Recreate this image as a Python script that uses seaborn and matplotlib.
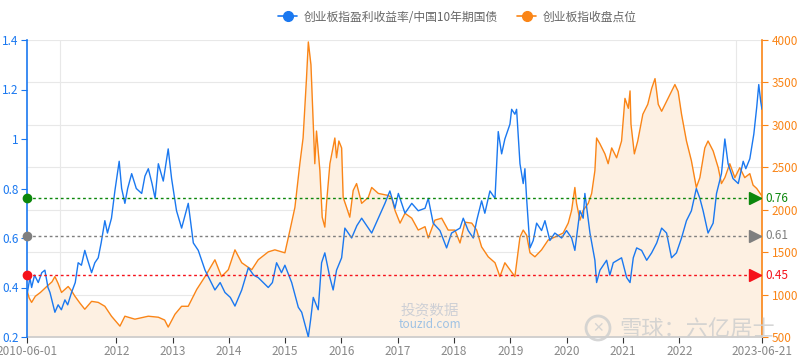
import matplotlib
matplotlib.use("Agg")
import matplotlib.pyplot as plt
from matplotlib.lines import Line2D
from matplotlib.patches import Circle
from matplotlib.transforms import blended_transform_factory, IdentityTransform
import seaborn as sns
import pandas as pd

# ratio series: ChiNext earnings yield / China 10y bond (left axis)
ratio_dates = [
    "2010-06-01", "2010-06-20", "2010-07-01", "2010-07-20", "2010-08-13", "2010-09-05", "2010-09-25",
    "2010-10-15", "2010-10-28", "2010-11-29", "2010-12-20", "2011-01-10", "2011-02-02", "2011-02-20",
    "2011-03-17", "2011-04-10", "2011-04-29", "2011-05-20", "2011-06-11", "2011-06-25", "2011-07-25",
    "2011-08-15", "2011-09-06", "2011-09-25", "2011-10-19", "2011-11-05", "2011-12-01", "2011-12-23",
    "2012-01-20", "2012-02-05", "2012-02-26", "2012-03-15", "2012-04-10", "2012-05-10", "2012-06-14",
    "2012-07-05", "2012-07-27", "2012-08-20", "2012-09-09", "2012-09-30", "2012-11-01", "2012-12-03",
    "2012-12-25", "2013-01-26", "2013-02-28", "2013-04-12", "2013-05-15", "2013-06-16", "2013-07-30",
    "2013-10-02", "2013-11-05", "2013-12-06", "2014-01-10", "2014-02-09", "2014-03-25", "2014-05-07",
    "2014-06-10", "2014-07-10", "2014-09-13", "2014-10-10", "2014-11-06", "2014-12-08", "2014-12-30",
    "2015-02-12", "2015-03-27", "2015-04-18", "2015-05-31", "2015-06-15", "2015-07-02", "2015-08-03",
    "2015-08-25", "2015-09-15", "2015-10-18", "2015-11-08", "2015-11-30", "2016-01-02", "2016-01-23",
    "2016-03-07", "2016-04-10", "2016-05-11", "2016-07-15", "2016-08-27", "2016-10-09", "2016-11-10",
    "2016-12-13", "2017-01-04", "2017-02-16", "2017-04-01", "2017-05-13", "2017-06-26", "2017-07-17",
    "2017-08-18", "2017-10-01", "2017-11-13", "2017-12-15", "2018-02-08", "2018-03-01", "2018-04-02",
    "2018-05-05", "2018-05-27", "2018-06-28", "2018-07-19", "2018-08-21", "2018-09-23", "2018-10-14",
    "2018-11-05", "2018-11-26", "2018-12-29", "2019-01-09", "2019-01-30", "2019-02-10", "2019-03-04",
    "2019-03-25", "2019-04-05", "2019-04-16", "2019-05-08", "2019-05-29", "2019-06-20", "2019-07-22",
    "2019-08-13", "2019-09-14", "2019-10-16", "2019-11-29", "2019-12-31", "2020-02-02", "2020-02-23",
    "2020-03-27", "2020-04-17", "2020-04-28", "2020-05-31", "2020-07-02", "2020-07-13", "2020-08-04",
    "2020-09-16", "2020-10-07", "2020-10-29", "2020-12-22", "2021-01-24", "2021-02-15", "2021-03-08",
    "2021-03-30", "2021-05-01", "2021-06-03", "2021-07-05", "2021-08-07", "2021-09-08", "2021-10-10",
    "2021-11-11", "2021-12-13", "2022-01-15", "2022-02-16", "2022-03-20", "2022-04-21", "2022-05-14",
    "2022-06-04", "2022-07-06", "2022-08-08", "2022-08-30", "2022-10-01", "2022-10-23", "2022-11-13",
    "2022-12-15", "2023-01-18", "2023-02-19", "2023-03-08", "2023-04-03", "2023-04-29", "2023-05-18",
    "2023-05-31", "2023-06-13", "2023-06-21",
]
ratio_vals = [
    0.37, 0.44, 0.40, 0.45, 0.42, 0.46, 0.47,
    0.40, 0.38, 0.30, 0.33, 0.31, 0.35, 0.33,
    0.38, 0.42, 0.50, 0.49, 0.55, 0.52, 0.46,
    0.50, 0.52, 0.58, 0.67, 0.62, 0.68, 0.79,
    0.91, 0.80, 0.74, 0.80, 0.86, 0.80, 0.78,
    0.85, 0.88, 0.82, 0.76, 0.90, 0.83, 0.96,
    0.84, 0.71, 0.64, 0.74, 0.58, 0.55, 0.47,
    0.39, 0.42, 0.38, 0.36, 0.325, 0.39, 0.48,
    0.45, 0.44, 0.40, 0.42, 0.50, 0.46, 0.49,
    0.42, 0.32, 0.30, 0.20, 0.27, 0.36, 0.31,
    0.50, 0.54, 0.44, 0.39, 0.47, 0.52, 0.64,
    0.60, 0.65, 0.68, 0.62, 0.68, 0.74, 0.79,
    0.72, 0.78, 0.70, 0.74, 0.71, 0.72, 0.76,
    0.66, 0.63, 0.56, 0.62, 0.64, 0.68, 0.63,
    0.60, 0.67, 0.75, 0.70, 0.79, 0.76, 1.03,
    0.94, 1.00, 1.06, 1.12, 1.10, 1.12, 0.90,
    0.82, 0.88, 0.76, 0.56, 0.59, 0.66, 0.63,
    0.67, 0.59, 0.62, 0.60, 0.63, 0.60, 0.55,
    0.71, 0.68, 0.78, 0.62, 0.51, 0.42, 0.47,
    0.51, 0.45, 0.50, 0.52, 0.44, 0.42, 0.52,
    0.56, 0.55, 0.51, 0.54, 0.58, 0.64, 0.62,
    0.52, 0.54, 0.60, 0.67, 0.71, 0.80, 0.76,
    0.71, 0.62, 0.66, 0.78, 0.86, 1.00, 0.90,
    0.84, 0.82, 0.91, 0.88, 0.92, 1.02, 1.13,
    1.22, 1.15, 1.12,
]

# ChiNext index close (right axis)
index_dates = [
    "2010-06-01", "2010-06-15", "2010-07-01", "2010-07-25", "2010-08-27", "2010-10-10", "2010-11-10",
    "2010-11-29", "2010-12-20", "2011-01-11", "2011-02-23", "2011-03-15", "2011-04-08", "2011-05-10",
    "2011-06-11", "2011-07-25", "2011-09-06", "2011-10-19", "2011-12-01", "2012-01-25", "2012-02-26",
    "2012-05-01", "2012-07-27", "2012-09-30", "2012-11-10", "2012-12-03", "2013-01-16", "2013-02-28",
    "2013-04-12", "2013-06-06", "2013-07-30", "2013-10-02", "2013-11-14", "2013-12-28", "2014-02-09",
    "2014-03-25", "2014-05-29", "2014-07-10", "2014-09-13", "2014-10-26", "2014-12-30", "2015-02-01",
    "2015-03-05", "2015-04-06", "2015-04-27", "2015-05-19", "2015-05-31", "2015-06-17", "2015-07-12",
    "2015-07-23", "2015-08-14", "2015-08-29", "2015-09-15", "2015-09-26", "2015-10-18", "2015-11-19",
    "2015-11-30", "2015-12-15", "2016-01-02", "2016-01-12", "2016-02-03", "2016-02-24", "2016-03-17",
    "2016-04-08", "2016-05-11", "2016-06-23", "2016-07-15", "2016-08-27", "2016-10-30", "2016-11-21",
    "2016-12-13", "2017-01-15", "2017-02-16", "2017-04-01", "2017-05-13", "2017-06-26", "2017-07-17",
    "2017-08-29", "2017-10-12", "2017-11-23", "2018-01-06", "2018-02-08", "2018-03-12", "2018-04-25",
    "2018-05-27", "2018-06-28", "2018-08-10", "2018-09-23", "2018-10-25", "2018-11-26", "2018-12-29",
    "2019-01-30", "2019-03-04", "2019-03-25", "2019-04-16", "2019-05-08", "2019-06-09", "2019-07-22",
    "2019-09-03", "2019-10-16", "2019-12-09", "2020-01-11", "2020-02-02", "2020-02-23", "2020-03-05",
    "2020-03-27", "2020-04-17", "2020-05-20", "2020-06-11", "2020-07-02", "2020-07-13", "2020-08-04",
    "2020-09-05", "2020-09-26", "2020-10-19", "2020-11-20", "2020-12-22", "2021-01-13", "2021-02-04",
    "2021-02-15", "2021-02-21", "2021-03-15", "2021-04-06", "2021-05-09", "2021-06-10", "2021-07-05",
    "2021-07-27", "2021-08-17", "2021-09-08", "2021-10-10", "2021-11-11", "2021-12-03", "2021-12-24",
    "2022-01-15", "2022-02-16", "2022-03-20", "2022-04-21", "2022-05-14", "2022-06-15", "2022-07-06",
    "2022-08-08", "2022-09-10", "2022-10-01", "2022-10-23", "2022-11-24", "2022-12-27", "2023-01-28",
    "2023-03-01", "2023-04-03", "2023-04-24", "2023-05-18", "2023-06-21",
]
index_vals = [
    1050, 960, 908, 980, 1025, 1100, 1150,
    1212, 1130, 1025, 1095, 1050, 980, 900,
    827, 920, 908, 862, 745, 628, 745,
    710, 745, 733, 700, 617, 768, 862,
    862, 1060, 1212, 1410, 1212, 1293, 1527,
    1375, 1293, 1410, 1503, 1527, 1492, 1760,
    2028, 2542, 2845, 3545, 3977, 3708, 2542,
    2927, 2460, 1912, 1795, 2075, 2542, 2845,
    2612, 2810, 2728, 2145, 2028, 1912, 2227,
    2308, 2075, 2145, 2262, 2192, 2168, 2145,
    1993, 1842, 1958, 1900, 1760, 1800, 1667,
    1877, 1900, 1760, 1760, 1608, 1853, 1842,
    1760, 1562, 1445, 1375, 1212, 1375, 1293,
    1212, 1678, 1760, 1700, 1492, 1445, 1527,
    1643, 1678, 1725, 1842, 1993, 2262, 2075,
    1877, 1993, 2075, 2192, 2460, 2845, 2775,
    2658, 2542, 2728, 2612, 2810, 3312, 3195,
    3400, 3008, 2658, 2810, 3125, 3242, 3428,
    3545, 3242, 3160, 3277, 3393, 3475, 3393,
    3125, 2810, 2577, 2262, 2378, 2728, 2810,
    2693, 2495, 2308, 2378, 2542, 2378, 2495,
    2378, 2425, 2290, 2250, 2160,
]

ref_levels = [0.76, 0.61, 0.45]
ref_colors = ["#0c870c", "#7f7f7f", "#f5121b"]

left_ticks = [0.2, 0.4, 0.6, 0.8, 1.0, 1.2, 1.4]
left_labels = ["0.2", "0.4", "0.6", "0.8", "1", "1.2", "1.4"]
right_ticks = [500, 1000, 1500, 2000, 2500, 3000, 3500, 4000]
x_tick_dates = ["2010-06-01", "2012-01-01", "2013-01-01", "2014-01-01", "2015-01-01", "2016-01-01",
                "2017-01-01", "2018-01-01", "2019-01-01", "2020-01-01", "2021-01-01", "2022-01-01",
                "2023-06-21"]
x_tick_labels = ["2010-06-01", "2012", "2013", "2014", "2015", "2016", "2017", "2018", "2019",
                 "2020", "2021", "2022", "2023-06-21"]
grid_years = [str(y) + "-01-01" for y in range(2011, 2024)]

series_names = ["创业板指盈利收益率/中国10年期国债", "创业板指收盘点位"]

BLUE = "#1a78f0"
ORANGE = "#fa8517"
FILL = "#fdf0e2"

sns.set_theme(style="white")
plt.rcParams["font.family"] = ["Noto Sans CJK SC", "DejaVu Sans"]

fig = plt.figure(figsize=(8, 3.6), dpi=100)
ax = fig.add_axes([27 / 800, 1 - 337 / 360, 735 / 800, 297 / 360])
ax2 = ax.twinx()

r_dt = pd.to_datetime(ratio_dates)
i_dt = pd.to_datetime(index_dates)

# index on the lower axes (right scale), ratio on top
ax.set_ylim(right_ticks[0], right_ticks[-1])
ax.fill_between(i_dt, right_ticks[0], index_vals, color=FILL, lw=0)
sns.lineplot(x=i_dt, y=index_vals, ax=ax, color=ORANGE, lw=1.0)
sns.lineplot(x=r_dt, y=ratio_vals, ax=ax2, color=BLUE, lw=1.0)

xmin, xmax = pd.Timestamp(x_tick_dates[0]), pd.Timestamp(x_tick_dates[-1])
ax.set_xlim(xmin, xmax)
ax2.set_xlim(xmin, xmax)
ax2.set_ylim(left_ticks[0], left_ticks[-1])

ax.yaxis.tick_right()
ax.set_yticks(right_ticks)
ax.set_yticklabels([str(t) for t in right_ticks])
ax2.yaxis.tick_left()
ax2.set_yticks(left_ticks)
ax2.set_yticklabels(left_labels)

ax.set_xticks(pd.to_datetime(x_tick_dates))
ax.set_xticklabels(x_tick_labels)
ax.set_xticks(pd.to_datetime(grid_years), minor=True)
ax.grid(axis="y", color="#e8e8e8", lw=0.8)
ax.grid(axis="x", which="minor", color="#e8e8e8", lw=0.8)
ax.grid(axis="x", which="major", visible=False)

for a in (ax, ax2):
    a.set_xlabel("")
    a.set_ylabel("")
    a.spines["top"].set_visible(False)
ax.spines["left"].set_visible(False)
ax.spines["right"].set_color(ORANGE)
ax.spines["bottom"].set_color("#cccccc")
ax2.spines["bottom"].set_visible(False)
ax2.spines["right"].set_visible(False)
ax2.spines["left"].set_color(BLUE)
ax2.spines["left"].set_linewidth(1.2)
ax.spines["right"].set_linewidth(1.2)

ax.tick_params(axis="y", which="major", right=True, left=False, length=4, width=0.8,
               color=ORANGE, labelcolor=ORANGE, labelsize=8.5, pad=3)
ax.tick_params(axis="x", which="major", bottom=True, length=4, width=0.8,
               color="#333333", labelcolor="#888888", labelsize=8.5, pad=2)
ax.tick_params(axis="x", which="minor", bottom=False, length=0)
ax2.tick_params(axis="y", left=True, right=False, length=4, width=0.8,
                color=BLUE, labelcolor=BLUE, labelsize=8.5, pad=2)

# reference levels: dotted line, dot on the left axis, arrow + label on the right
tr = blended_transform_factory(ax2.transAxes, ax2.transData)
for lvl, col in zip(ref_levels, ref_colors):
    ax2.axhline(lvl, color=col, ls=(0, (2, 2)), lw=1.0, zorder=3)
    ax2.plot(0, lvl, "o", color=col, ms=6, transform=tr, clip_on=False, zorder=6)
    ax2.plot(0.991, lvl, marker=">", color=col, ms=9, transform=tr, clip_on=False, zorder=6)
    ax2.text(1.004, lvl, f"{lvl:.2f}", color=col, fontsize=8.5, va="center", ha="left",
             transform=tr)

handles = [Line2D([0], [0], color=BLUE, marker="o", ms=7, lw=1.2),
           Line2D([0], [0], color=ORANGE, marker="o", ms=7, lw=1.2)]
fig.legend(handles, series_names, loc="upper center", bbox_to_anchor=(0.572, 1.0), ncol=2,
           frameon=False, fontsize=8.5, labelcolor="#666666", handlelength=1.6,
           handletextpad=0.6, columnspacing=1.6)

# watermarks
fig.text(430 / 800, 1 - 310 / 360, "投资数据", color="#c8ccd4", fontsize=10.5, ha="center",
         va="center", alpha=0.9)
fig.text(430 / 800, 1 - 324 / 360, "touzid.com", color="#9fc2e4", fontsize=8.5, ha="center",
         va="center")
fig.text(697 / 800, 1 - 329 / 360, "雪球：六亿居士", color="#cfcfcf", fontsize=16, ha="center",
         va="center", alpha=0.85)
fig.add_artist(Circle((598, 360 - 328), 12, transform=IdentityTransform(), fill=False,
                      ec="#cfcfcf", lw=2, alpha=0.85))
fig.text(598 / 800, 1 - 328 / 360, "✕", color="#cfcfcf", fontsize=10, ha="center",
         va="center", family="DejaVu Sans", alpha=0.85)

fig.savefig("out.png", dpi=100)
